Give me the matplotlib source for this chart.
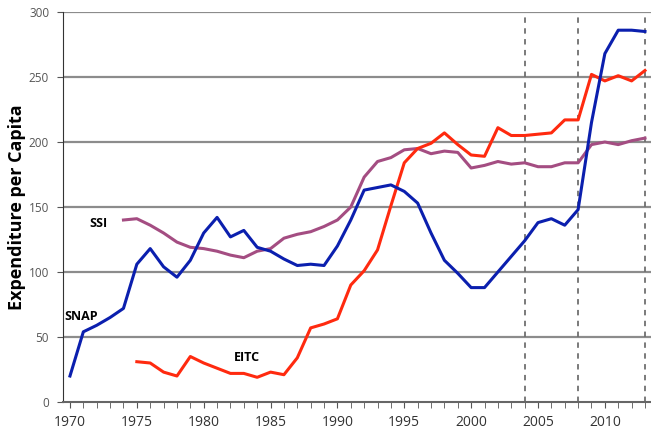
import matplotlib.pyplot as plt
from matplotlib.ticker import MultipleLocator

years_snap = list(range(1970, 2014))
snap = [20, 54, 59, 65, 72, 106, 118, 104, 96, 109, 130, 142, 127, 132, 119, 116,
        110, 105, 106, 105, 120, 140, 163, 165, 167, 162, 153, 130, 109, 99,
        88, 88, 100, 112, 124, 138, 141, 136, 148, 215, 268, 286, 286, 285]

years_eitc = list(range(1975, 2014))
eitc = [31, 30, 23, 20, 35, 30, 26, 22, 22, 19, 23, 21, 34, 57, 60, 64,
        90, 101, 117, 151, 184, 195, 199, 207, 198, 190, 189, 211, 205, 205,
        206, 207, 217, 217, 252, 247, 251, 247, 255]

years_ssi = list(range(1974, 2014))
ssi = [140, 141, 136, 130, 123, 119, 118, 116, 113, 111, 116, 118, 126, 129,
       131, 135, 140, 150, 173, 185, 188, 194, 195, 191, 193, 192, 180, 182,
       185, 183, 184, 181, 181, 184, 184, 198, 200, 198, 201, 203]

dashed_years = [2004, 2008, 2013]

plt.rcParams['font.family'] = ['Open Sans', 'DejaVu Sans']

fig = plt.figure(figsize=(6.51, 4.30), dpi=100)
ax = fig.add_axes([0.0968, 0.0651, 0.9032, 0.907])

for y in range(50, 301, 50):
    ax.axhline(y, color='#8c8c8c', lw=1.6, zorder=1)
for yr in dashed_years:
    ax.axvline(yr, color='#707070', lw=1.3, ls=(0, (3, 3)), zorder=1)

ax.plot(years_ssi, ssi, color='#a44d82', lw=2.2, zorder=3)
ax.plot(years_eitc, eitc, color='#ff2a0f', lw=2.2, zorder=4)
ax.plot(years_snap, snap, color='#0b1fae', lw=2.2, zorder=5)

ax.text(1972.1, 137, 'SSI', fontsize=9, fontweight='bold', ha='center', va='center')
ax.text(1970.85, 66, 'SNAP', fontsize=9, fontweight='bold', ha='center', va='center')
ax.text(1983.2, 34, 'EITC', fontsize=9, fontweight='bold', ha='center', va='center')

ax.set_xlim(1969.48, 2013.45)
ax.set_ylim(0, 300)
ax.xaxis.set_major_locator(MultipleLocator(5))
ax.xaxis.set_minor_locator(MultipleLocator(1))
ax.yaxis.set_major_locator(MultipleLocator(50))
ax.tick_params(axis='x', which='both', direction='out', length=4, color='#555555',
               labelsize=10, labelcolor='#333333', pad=5)
ax.tick_params(axis='y', direction='out', length=4, color='#555555',
               labelsize=8.5, labelcolor='#555555', pad=6)

for s in ['top', 'right']:
    ax.spines[s].set_visible(False)
ax.spines['left'].set_color('#333333')
ax.spines['bottom'].set_color('#666666')
ax.spines['bottom'].set_linewidth(1.5)

ax.set_ylabel('Expenditure per Capita', fontsize=13, fontweight='bold')
ax.yaxis.set_label_coords(-0.063, 0.5)

fig.savefig('out.png', dpi=100)
